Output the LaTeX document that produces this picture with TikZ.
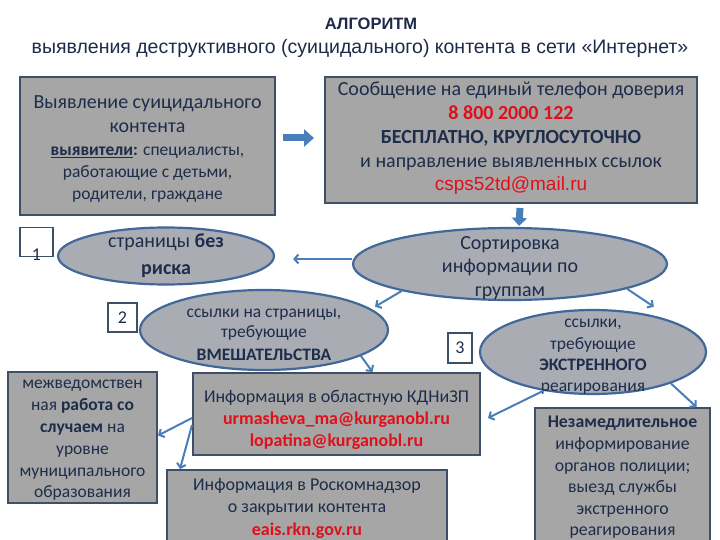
\documentclass[tikz,border=0pt]{standalone}
\usepackage{fontspec}
\setmainfont{Carlito}
\newfontfamily\arialf{Liberation Sans}
\usetikzlibrary{arrows.meta,shapes.geometric,calc}
\definecolor{boxfill}{HTML}{A6A6A6}
\definecolor{boxdraw}{HTML}{3D5068}
\definecolor{ellfill}{HTML}{AAACB4}
\definecolor{elldraw}{HTML}{41689A}
\definecolor{txt}{HTML}{1E2D4A}
\definecolor{redt}{HTML}{E0101A}
\definecolor{arrowc}{HTML}{4A7EBB}
\definecolor{titlec}{HTML}{1F2A4A}
\tikzset{
  grbox/.style={draw=boxdraw, fill=boxfill, line width=2pt, inner sep=0pt},
  ell/.style={ellipse, draw=elldraw, fill=ellfill, line width=2.2pt, inner sep=0pt},
  lbl/.style={align=center, text=txt, inner sep=0pt},
  numbox/.style={draw=boxdraw, fill=white, line width=1.5pt, inner sep=0pt, text=txt, font=\fontsize{18}{20}\selectfont},
  conn/.style={draw=arrowc, line width=2pt, -{Straight Barb[length=4pt,width=9pt,line width=2pt]}},
  bigarrow/.style={draw=arrowc, line width=7pt, -{Triangle[length=10pt,width=17pt]}},
}
\newcommand{\rd}[1]{\textcolor{redt}{#1}}
\newcommand{\sm}[1]{{\fontsize{17.5}{22}\selectfont #1}}
\begin{document}
\begin{tikzpicture}[x=1pt,y=-1pt]
\useasboundingbox (0,0) rectangle (720,540);
\fill[white] (0,0) rectangle (720,540);
% title
\node[font=\arialf\bfseries\fontsize{16.5}{19}\selectfont, text=titlec] (title) at (371,24) {АЛГОРИТМ};
\node[font=\arialf\fontsize{19.5}{22}\selectfont, text=titlec] (subtitle) at (360,48) {выявления деструктивного (суицидального) контента в сети «Интернет»};
% top boxes
\node[grbox, minimum width=255pt, minimum height=138pt] (A) at (147.5,146) {};
\node[lbl, font=\fontsize{20}{24}\selectfont] (At) at ([yshift=-3pt]A.center)
 {Выявление суицидального\\
  контента\\[-1pt]
  \sm{\textbf{\underline{выявители}:} специалисты,}\\[-2pt]
  \sm{работающие с детьми,}\\[-2pt]
  \sm{родители, граждане}};
\node[grbox, minimum width=372pt, minimum height=126pt] (B) at (511,140) {};
\node[lbl, font=\fontsize{20}{23.8}\selectfont] (Bt) at ([yshift=1.5pt]B.center)
 {Сообщение на единый телефон доверия\\
  \textbf{\rd{8 800 2000 122}}\\
  \textbf{БЕСПЛАТНО, КРУГЛОСУТОЧНО}\\
  и направление выявленных ссылок\\
  {\arialf\fontsize{19}{22}\selectfont\rd{csps52td@mail.ru}}};
% ellipses
\node[ell, minimum width=314pt, minimum height=72pt] (sort) at (510,264) {};
\node[lbl, font=\fontsize{20}{23.5}\selectfont] (sortt) at ([yshift=-4pt]sort.center)
 {Сортировка\\ информации по\\ группам};
\node[ell, minimum width=216pt, minimum height=57pt] (e1) at (166,256) {};
\node[lbl, font=\fontsize{20}{27}\selectfont] (e1t) at (e1.center)
 {страницы \textbf{без}\\ \textbf{риска}};
\node[ell, minimum width=248pt, minimum height=80pt] (e2) at (264,330) {};
\node[lbl, font=\fontsize{17.5}{21.5}\selectfont] (e2t) at ([yshift=-4.5pt]e2.center)
 {ссылки на страницы,\\[-1.5pt] требующие\\[1.5pt] \textbf{ВМЕШАТЕЛЬСТВА}};
\node[ell, minimum width=226pt, minimum height=84pt] (e3) at (593,352) {};
\node[lbl, font=\fontsize{17.5}{21.3}\selectfont] (e3t) at ([yshift=-5pt]e3.center)
 {ссылки,\\ требующие\\ \textbf{ЭКСТРЕННОГО}\\ реагирования};
% number boxes
\node[numbox, minimum width=33pt, minimum height=29pt] (n1) at (36.5,242) {};
\node[lbl, font=\fontsize{18}{20}\selectfont] (n1t) at ([yshift=-13pt]n1.center) {1};
\node[numbox, minimum width=29pt, minimum height=29pt] (n2) at (122.5,317.5) {2};
\node[numbox, minimum width=24pt, minimum height=30pt] (n3) at (460,348) {3};
% lower boxes
\node[grbox, minimum width=287pt, minimum height=82pt] (kdn) at (336.5,414) {};
\node[lbl, font=\fontsize{18}{22}\selectfont] (kdnt) at ([yshift=-6pt]kdn.center)
 {Информация в областную КДНиЗП\\
  \textbf{\rd{urmasheva\_ma@kurganobl.ru}}\\
  \textbf{\rd{lopatina@kurganobl.ru}}};
\node[grbox, minimum width=149pt, minimum height=131pt] (mezh) at (82.5,437.5) {};
\node[lbl, font=\fontsize{17.5}{21.8}\selectfont] (mezht) at ([yshift=-3pt]mezh.center)
 {межведомствен\\ ная \textbf{работа со}\\ \textbf{случаем} на\\ уровне\\ муниципального\\ образования};
\node[grbox, minimum width=280pt, minimum height=72pt] (rkn) at (307,506) {};
\node[lbl, font=\fontsize{18}{22.5}\selectfont] (rknt) at ([yshift=-2pt]rkn.center)
 {Информация в Роскомнадзор\\ о закрытии контента\\ \textbf{\rd{eais.rkn.gov.ru}}};
\node[grbox, minimum width=175pt, minimum height=134pt] (nez) at (622.5,475) {};
\node[lbl, font=\fontsize{17.8}{21.6}\selectfont] (nezt) at ([yshift=-2.5pt]nez.center)
 {\textbf{Незамедлительное}\\ информирование\\ органов полиции;\\ выезд службы\\ экстренного\\ реагирования};
% block arrows
\draw[bigarrow] ([xshift=7pt,yshift=8pt]A.east) -- ([xshift=-10pt,yshift=2pt]B.west);
\draw[draw=arrowc, line width=7pt, -{Triangle[length=8pt,width=15pt]}] ([xshift=9pt,yshift=-4pt]B.south) -- ([xshift=9pt,yshift=1pt]sort.north);
% connectors
\draw[conn] ([yshift=5pt]sort.west) -- ([xshift=18pt,yshift=-3pt]e1.east);
\draw[conn] (sort.194) -- ([xshift=6pt,yshift=1pt]e2.12);
\draw[conn] (sort.348) -- ([xshift=14pt,yshift=6pt]e3.40);
\draw[conn] (e2.-15) -- ([xshift=36pt]kdn.north);
\draw[conn] ([yshift=-4pt]kdn.west) -- ([yshift=2pt]mezh.east);
\draw[conn] ([yshift=-11pt]kdn.west) -- ([xshift=-127pt]rkn.north);
\draw[conn] (e3.218) -- ([xshift=7pt,yshift=-4pt]kdn.east);
\draw[conn] (e3.-22) -- ([xshift=74pt]nez.north);
\end{tikzpicture}
\end{document}
